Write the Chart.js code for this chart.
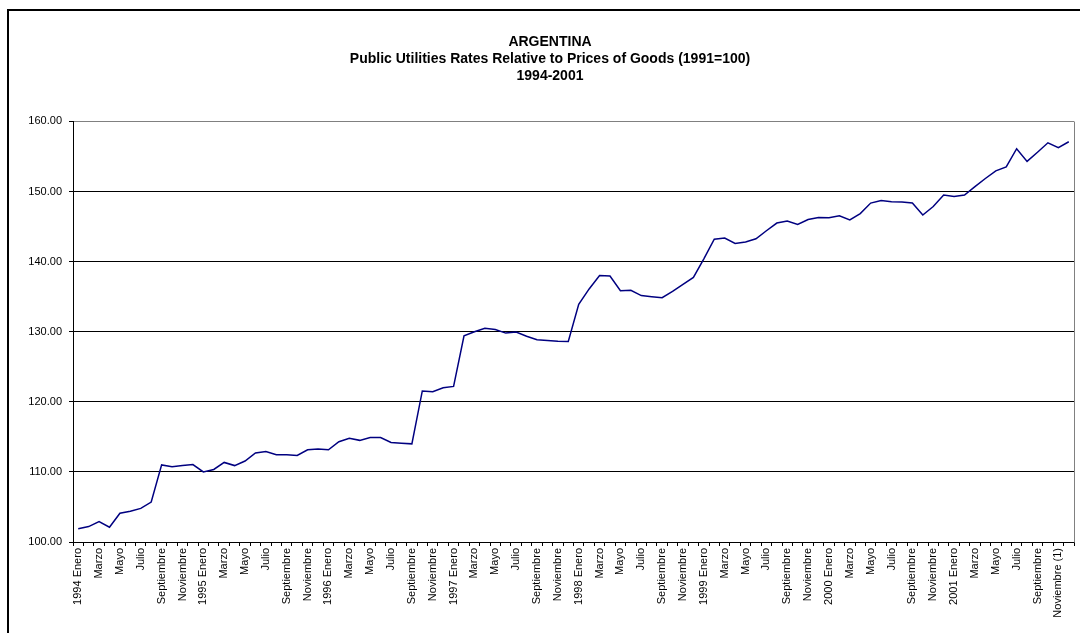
<!DOCTYPE html>
<html>
<head>
<meta charset="utf-8">
<title>Argentina - Public Utilities Rates Relative to Prices of Goods</title>
<script src="https://cdn.jsdelivr.net/npm/chart.js@4/dist/chart.umd.min.js"></script>
<style>
  html, body { margin: 0; padding: 0; background: #fff; overflow: hidden; }
  #wrap { position: relative; width: 1080px; height: 633px; }
  #frame { position: absolute; left: 7px; top: 9px; width: 1200px; height: 700px;
           border-left: 2px solid #000; border-top: 2px solid #000; }
  #c { position: absolute; left: 0; top: 0; }
</style>
</head>
<body>
<div id="wrap">
  <div id="frame"></div>
  <canvas id="c" width="1080" height="633"></canvas>
</div>
<script>
// Monthly index, January 1994 – December 2001 (1991 = 100)
const years = [1994, 1995, 1996, 1997, 1998, 1999, 2000, 2001];
const monthNames = ['Enero', 'Febrero', 'Marzo', 'Abril', 'Mayo', 'Junio',
                    'Julio', 'Agosto', 'Septiembre', 'Octubre', 'Noviembre', 'Diciembre'];
const noteLabel = 'Noviembre (1)';   // provisional figure, November 2001

const ratio = [
  101.9, 102.2, 102.9, 102.1, 104.1, 104.4, 104.8, 105.7, 111.0, 110.75, 110.9, 111.05,
  110.0, 110.35, 111.35, 110.9, 111.55, 112.7, 112.9, 112.45, 112.45, 112.35, 113.15, 113.25,
  113.15, 114.3, 114.8, 114.5, 114.9, 114.9, 114.2, 114.1, 114.0, 121.55, 121.45, 122.0,
  122.2, 129.4, 130.0, 130.5, 130.3, 129.8, 129.95, 129.35, 128.85, 128.75, 128.65, 128.6,
  133.9, 136.1, 138.0, 137.95, 135.85, 135.9, 135.15, 135.0, 134.85, 135.75, 136.75, 137.75,
  140.4, 143.2, 143.35, 142.6, 142.8, 143.25, 144.4, 145.5, 145.8, 145.3, 146.0, 146.3,
  146.25, 146.55, 145.95, 146.85, 148.35, 148.7, 148.55, 148.5, 148.35, 146.65, 147.85, 149.5,
  149.3, 149.5, 150.7, 151.85, 152.95, 153.5, 156.1, 154.3, 155.6, 156.95, 156.25, 157.1
];

const yTicks = { min: 100, max: 160, step: 10 };

const titleLines = [
  'ARGENTINA',
  'Public Utilities Rates Relative to Prices of Goods (1991=100)',
  '1994-2001'
];

// One category per month: the year is prefixed to January
const categories = [];
years.forEach(y => monthNames.forEach((m, k) => {
  categories.push(k === 0 ? y + ' ' + m : m);
}));
categories[categories.length - 2] = noteLabel;

const FONT = "'Liberation Sans', Arial, Helvetica, sans-serif";

// Grey frame on the right-hand side of the plot area
const plotFrame = {
  id: 'plotFrame',
  afterDraw(chart) {
    const { ctx, chartArea: a } = chart;
    ctx.save();
    ctx.strokeStyle = '#808080';
    ctx.lineWidth = 1;
    ctx.beginPath();
    const x = Math.round(a.right) + 0.5;
    ctx.moveTo(x, Math.round(a.top) + 0.5);
    ctx.lineTo(x, Math.round(a.bottom) + 0.5);
    ctx.stroke();
    ctx.restore();
  }
};

new Chart(document.getElementById('c'), {
  type: 'line',
  data: {
    labels: categories,
    datasets: [{
      data: ratio,
      borderColor: '#000080',
      borderWidth: 1.5,
      pointRadius: 0,
      tension: 0,
      fill: false
    }]
  },
  options: {
    responsive: false,
    animation: false,
    devicePixelRatio: 1,
    layout: { padding: { left: 26, right: 6, top: 0, bottom: 0 } },
    plugins: {
      legend: { display: false },
      tooltip: { enabled: false },
      title: {
        display: true,
        text: titleLines,
        color: '#000',
        font: { family: FONT, size: 14, weight: 'bold', lineHeight: 1.2 },
        padding: { top: 34, bottom: 37 }
      }
    },
    scales: {
      x: {
        offset: true,
        grid: { offset: true, drawOnChartArea: false, drawTicks: true, tickLength: 4, color: '#000' },
        border: { color: '#000', width: 1 },
        ticks: {
          autoSkip: false,
          maxRotation: 90,
          minRotation: 90,
          padding: 2,
          color: '#000',
          font: { family: FONT, size: 11 },
          callback: (v, i) => (i % 2 === 0 ? categories[i] : '')
        },
        afterFit: s => { s.height = 91; s.paddingLeft = 0; s.paddingRight = 0; }
      },
      y: {
        min: yTicks.min,
        max: yTicks.max,
        ticks: {
          stepSize: yTicks.step,
          padding: 7,
          color: '#000',
          font: { family: FONT, size: 11 },
          callback: v => Number(v).toFixed(2)
        },
        grid: {
          color: c => (c.tick && c.tick.value === yTicks.max ? '#808080' : '#000'),
          tickColor: '#000',
          tickLength: 4,
          lineWidth: 1
        },
        border: { color: '#000', width: 1 },
        afterFit: s => { s.width = 47; }
      }
    }
  },
  plugins: [plotFrame]
});
</script>
</body>
</html>
